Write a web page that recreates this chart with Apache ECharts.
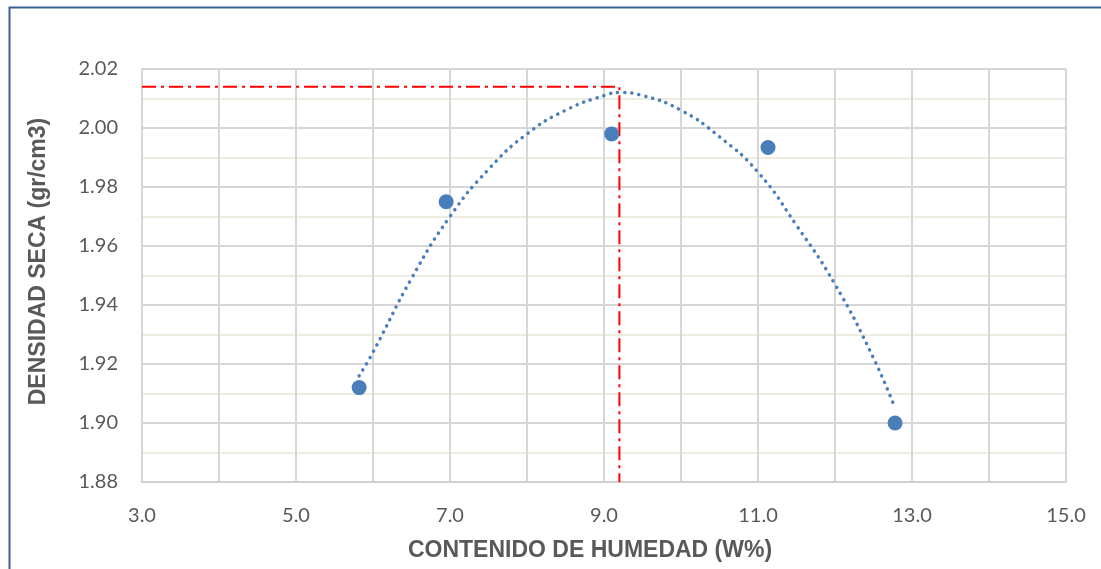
<!DOCTYPE html>
<html>
<head>
<meta charset="utf-8">
<script src="https://cdn.jsdelivr.net/npm/echarts@6/dist/echarts.min.js"></script>
<style>
  html, body { margin: 0; padding: 0; background: #ffffff; }
  #chart { width: 1101px; height: 569px; }
</style>
</head>
<body>
<div id="chart"></div>
<script>
// puntos del ensayo
var humedad = [5.82, 6.95, 9.10, 11.13, 12.78];
var densidad = [1.912, 1.975, 1.998, 1.9934, 1.900];

// curva de tendencia
var curvaX = [5.82, 6.0, 6.5, 7.0, 7.5, 8.0, 8.5, 9.0, 9.2, 9.5, 10.0, 10.5, 11.0, 11.5, 12.0, 12.5, 12.78];
var curvaY = [1.916, 1.924, 1.949, 1.970, 1.986, 1.998, 2.006, 2.011, 2.012, 2.011, 2.006, 1.997, 1.985, 1.967, 1.947, 1.922, 1.905];

// humedad optima / densidad maxima
var optimoX = [3.0, 9.2, 9.2];
var optimoY = [2.014, 2.014, 1.88];

var ejeX = { min: 3, max: 15, paso: 1 };
var ejeY = { min: 1.88, max: 2.02, paso: 0.02 };

function pares(xs, ys) {
  return xs.map(function (x, i) { return [x, ys[i]]; });
}

const mychart = echarts.init(document.getElementById('chart'));
mychart.setOption(getOption());

function getOption() {
  var option = {
    backgroundColor: '#ffffff',
    animation: false,
    graphic: [{
      type: 'rect',
      shape: { x: 9.5, y: 7.5, width: 1200, height: 700 },
      style: { fill: 'none', stroke: '#3b5f93', lineWidth: 2 },
      silent: true
    }],
    grid: { left: 142, right: 35, top: 69, bottom: 87 },
    xAxis: {
      type: 'value',
      min: ejeX.min,
      max: ejeX.max,
      interval: ejeX.paso,
      name: 'CONTENIDO DE HUMEDAD (W%)',
      nameLocation: 'middle',
      nameGap: 57,
      nameTextStyle: {
        color: '#595959', fontSize: 23, fontWeight: 'bold',
        fontFamily: 'Liberation Sans', padding: [0, 28, 0, 0]
      },
      axisLine: { show: true, lineStyle: { color: '#d0d0d0', width: 2 } },
      axisTick: { show: false },
      axisLabel: {
        color: '#595959', fontSize: 20, fontFamily: 'Lato', margin: 24,
        formatter: function (v) {
          return Math.round(v - ejeX.min) % 2 === 0 ? v.toFixed(1) : '';
        }
      },
      splitLine: { show: true, lineStyle: { color: '#d6d6d6', width: 2 } }
    },
    yAxis: {
      type: 'value',
      min: ejeY.min,
      max: ejeY.max,
      interval: ejeY.paso,
      name: 'DENSIDAD SECA (gr/cm3)',
      nameLocation: 'middle',
      nameGap: 92,
      nameRotate: 90,
      nameTextStyle: {
        color: '#595959', fontSize: 23, fontWeight: 'bold',
        fontFamily: 'Liberation Sans', padding: [0, 0, 0, 28]
      },
      axisLine: { show: true, lineStyle: { color: '#d6d6d6', width: 2 } },
      axisTick: { show: false },
      axisLabel: {
        color: '#595959', fontSize: 20, fontFamily: 'Lato', margin: 24,
        formatter: function (v) { return v.toFixed(2); }
      },
      splitLine: { show: true, lineStyle: { color: '#d6d6d6', width: 2 } },
      minorTick: { show: false, splitNumber: 2 },
      minorSplitLine: { show: true, lineStyle: { color: '#eeebe0', width: 2 } }
    },
    series: [
      {
        type: 'line',
        data: pares(optimoX, optimoY),
        showSymbol: false,
        lineStyle: { color: '#ff0000', width: 2, type: [14, 5, 3, 5] },
        z: 3
      },
      {
        type: 'line',
        data: pares(curvaX, curvaY),
        smooth: true,
        showSymbol: false,
        lineStyle: { color: '#4a7ebb', width: 3.5, type: [0.1, 7], cap: 'round' },
        z: 4
      },
      {
        type: 'scatter',
        data: pares(humedad, densidad),
        symbolSize: 15,
        itemStyle: { color: '#4a7ebb', opacity: 1 },
        z: 5
      }
    ]
  };
  return option;
}
</script>
</body>
</html>
